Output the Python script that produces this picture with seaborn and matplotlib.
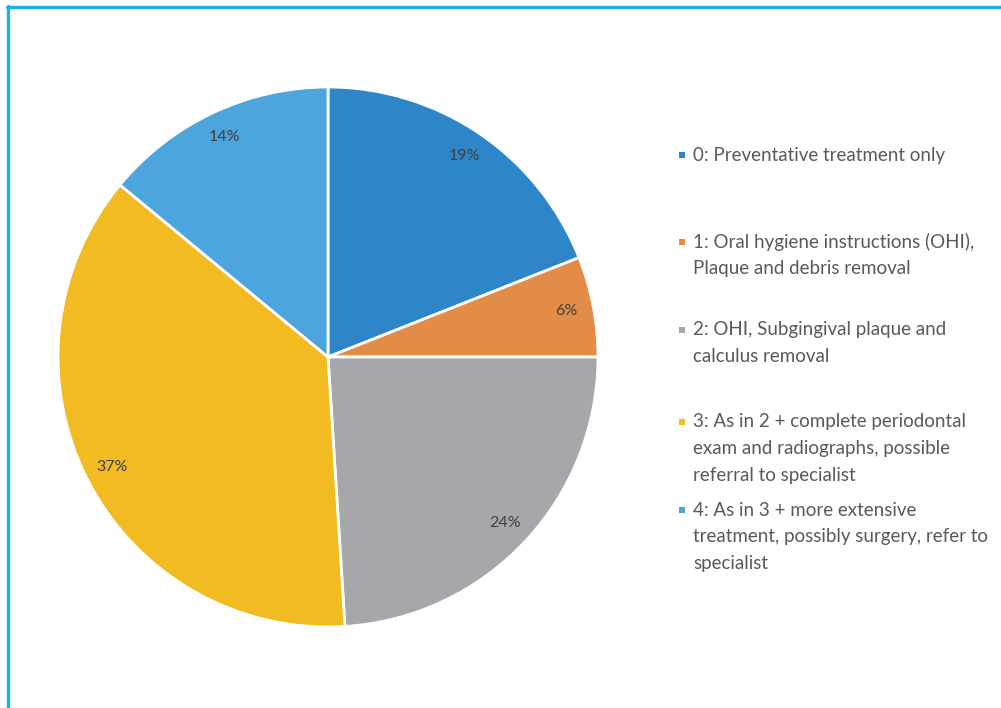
import matplotlib
matplotlib.use("Agg")
import matplotlib.pyplot as plt
import seaborn as sns
from matplotlib.lines import Line2D
from matplotlib.patches import Rectangle

# Treatment-need categories and their shares (%)
categories = [
    "0: Preventative treatment only",
    "1: Oral hygiene instructions (OHI),\nPlaque and debris removal",
    "2: OHI, Subgingival plaque and\ncalculus removal",
    "3: As in 2 + complete periodontal\nexam and radiographs, possible\nreferral to specialist",
    "4: As in 3 + more extensive\ntreatment, possibly surgery, refer to\nspecialist",
]
shares = [19, 6, 24, 37, 14]
slice_colors = ["#2E86C8", "#E38C48", "#A5A7AA", "#F2BB22", "#4CA5DD"]

sns.set_theme(style="white")
plt.rcParams["font.family"] = ["Lato", "DejaVu Sans"]
palette = sns.color_palette(slice_colors)

W, H = 1001, 708
fig = plt.figure(figsize=(W / 100, H / 100), dpi=100)
fig.patch.set_facecolor("white")

# Pie centred at (328, 357) px with a 270 px radius
cx, cy, r = 328, 357, 270
lim = 1.03
half = r * lim
ax = fig.add_axes([(cx - half) / W, (H - cy - half) / H, 2 * half / W, 2 * half / H])

wedges, texts, autotexts = ax.pie(
    shares,
    colors=palette,
    startangle=90,
    counterclock=False,
    autopct=lambda p: f"{p:.0f}%",
    pctdistance=0.9,
    wedgeprops=dict(edgecolor="white", linewidth=2),
    textprops=dict(color="#404040", fontsize=11.5),
)
ax.set_xlim(-lim, lim)
ax.set_ylim(-lim, lim)
ax.set_aspect("equal")
ax.axis("off")

# Legend: a small square beside the first line of each entry
first_line_y = [155, 242, 330, 422, 510]
line_step = 26.5
marker_x, text_x, msize = 679, 693, 6
for label, color, y0 in zip(categories, palette, first_line_y):
    fig.add_artist(Rectangle(((marker_x) / W, 1 - (y0 + msize / 2) / H),
                             msize / W, msize / H, facecolor=color,
                             edgecolor="none", transform=fig.transFigure))
    for k, line in enumerate(label.split("\n")):
        fig.text(text_x / W, 1 - (y0 + k * line_step) / H, line,
                 ha="left", va="center", fontsize=13.5, color="#595959")

# Frame lines along the top and left edges
fig.add_artist(Line2D([7 / W, 1], [1 - 7 / H, 1 - 7 / H], color="#1AB0E8", lw=2.4,
                      transform=fig.transFigure))
fig.add_artist(Line2D([8 / W, 8 / W], [1 - 6 / H, 0], color="#1AB0E8", lw=2.4,
                      transform=fig.transFigure))

fig.savefig("out.png", dpi=100, facecolor="white")
